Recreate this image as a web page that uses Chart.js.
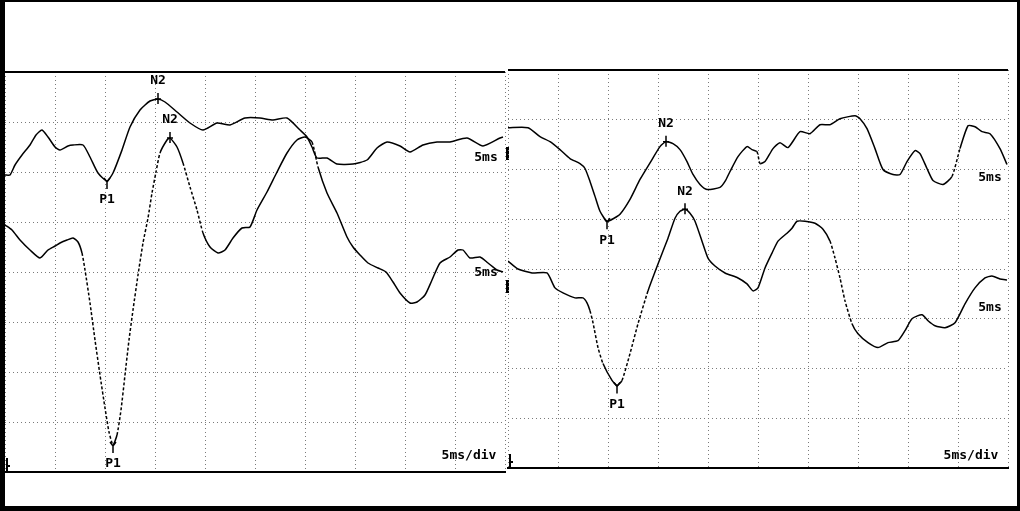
<!DOCTYPE html>
<html>
<head>
<meta charset="utf-8">
<script src="https://cdn.jsdelivr.net/npm/chart.js@4.4.1/dist/chart.umd.min.js"></script>
<style>
    html, body { margin: 0; padding: 0; background: #fff; }
    #page { position: relative; width: 1020px; height: 511px; overflow: hidden; background: #fff; }
    #page canvas { position: absolute; }
    #frame {
        position: absolute; left: 0; top: 0; width: 1020px; height: 511px;
        box-sizing: border-box; border: solid #000; border-width: 2px 3px 5px 5px;
        pointer-events: none;
    }
</style>
</head>
<body>
<div id="page">
    <canvas id="leftChart" width="515" height="420" style="left:0;top:60px;width:515px;height:420px"></canvas>
    <canvas id="rightChart" width="515" height="420" style="left:500px;top:58px;width:515px;height:420px"></canvas>
    <div id="frame"></div>
</div>
<script>
// time in ms (5 ms per division), amplitude in divisions (0 = bottom of screen)

// left screen, upper trace
const leftUpperTime = [0, 0.5, 1.0, 1.7, 2.5, 3.1, 3.7, 4.3, 5.0, 5.5, 6.3, 6.8, 7.8, 8.5, 9.3, 10.2, 10.8, 11.7, 12.5, 13.5,
    14.5, 15.3, 16.0, 17.2, 18.5, 19.8, 21.2, 22.5, 24.0, 25.5, 26.8, 28.2, 29.5, 30.2, 30.7, 31.2, 32.2, 33.2, 34.8, 36.2,
    37.2, 38.2, 39.5, 40.5, 41.8, 43.2, 44.5, 46.2, 47.8, 49.5, 49.8];
const leftUpperAmp = [5.94, 5.94, 6.14, 6.34, 6.54, 6.74, 6.84, 6.70, 6.50, 6.44, 6.52, 6.54, 6.54, 6.30, 5.98, 5.82, 5.98, 6.44, 6.90, 7.24,
    7.42, 7.46, 7.40, 7.20, 6.98, 6.84, 6.98, 6.94, 7.08, 7.08, 7.04, 7.08, 6.84, 6.70, 6.50, 6.28, 6.28, 6.16, 6.16, 6.24,
    6.48, 6.60, 6.52, 6.40, 6.54, 6.60, 6.60, 6.68, 6.52, 6.68, 6.70];

// left screen, lower trace
const leftLowerTime = [0, 0.7, 1.5, 2.5, 3.5, 4.3, 5.0, 5.5, 6.2, 6.8, 7.3, 7.7, 8.0, 8.5, 9.0, 9.5, 10.0, 10.4, 10.8, 11.2,
    11.6, 12.0, 12.4, 12.8, 13.3, 13.8, 14.3, 14.7, 15.1, 15.5, 16.2, 16.5, 17.2, 17.8, 18.5, 19.2, 19.8, 20.5, 21.3, 22.0,
    22.8, 23.7, 24.5, 25.2, 26.2, 27.2, 28.2, 29.2, 30.0, 30.7, 31.3, 32.2, 33.2, 34.2, 34.8, 35.5, 36.3, 37.3, 38.1, 38.8,
    39.5, 40.5, 41.2, 42.0, 42.7, 43.5, 44.5, 45.3, 45.8, 46.5, 47.5, 48.3, 49.2, 49.8];
const leftLowerAmp = [4.94, 4.84, 4.64, 4.44, 4.28, 4.44, 4.52, 4.58, 4.64, 4.68, 4.60, 4.38, 4.04, 3.38, 2.64, 1.94, 1.28, 0.80, 0.54, 0.74,
    1.24, 1.94, 2.64, 3.24, 3.94, 4.58, 5.08, 5.58, 6.00, 6.38, 6.64, 6.68, 6.50, 6.18, 5.70, 5.24, 4.78, 4.50, 4.38, 4.44,
    4.68, 4.88, 4.90, 5.24, 5.60, 6.00, 6.38, 6.64, 6.70, 6.60, 6.10, 5.58, 5.18, 4.70, 4.50, 4.34, 4.18, 4.08, 4.00, 3.80,
    3.58, 3.38, 3.40, 3.54, 3.84, 4.18, 4.30, 4.44, 4.44, 4.28, 4.30, 4.18, 4.04, 4.00];

// right screen, upper trace
const rightUpperTime = [0, 2.0, 3.2, 4.2, 5.2, 6.2, 7.2, 7.7, 8.2, 8.7, 9.2, 9.9, 10.6, 11.2, 12.2, 13.2, 14.4, 15.2, 15.8, 16.5,
    17.2, 17.9, 18.5, 19.2, 19.9, 21.2, 21.7, 22.2, 23.0, 23.9, 24.4, 24.9, 25.2, 25.7, 26.5, 27.2, 28.0, 29.2, 30.2, 31.2,
    32.2, 33.2, 34.7, 35.2, 35.9, 36.7, 37.5, 38.5, 39.2, 39.9, 40.7, 41.2, 41.9, 42.5, 43.5, 44.4, 45.2, 46.0, 46.7, 47.4,
    48.2, 49.2, 49.9];
const rightUpperAmp = [6.84, 6.84, 6.66, 6.56, 6.40, 6.22, 6.12, 6.02, 5.76, 5.46, 5.16, 4.96, 5.02, 5.10, 5.40, 5.80, 6.20, 6.46, 6.56, 6.52,
    6.40, 6.16, 5.90, 5.70, 5.60, 5.64, 5.76, 5.96, 6.26, 6.46, 6.40, 6.36, 6.12, 6.16, 6.42, 6.54, 6.44, 6.76, 6.72, 6.90,
    6.90, 7.02, 7.08, 7.02, 6.82, 6.42, 6.00, 5.90, 5.90, 6.16, 6.38, 6.32, 6.02, 5.78, 5.70, 5.86, 6.42, 6.88, 6.86, 6.76,
    6.72, 6.42, 6.10];

// right screen, lower trace
const rightLowerTime = [0, 1.0, 2.4, 3.9, 4.7, 5.5, 6.7, 7.5, 7.9, 8.2, 8.5, 9.0, 9.5, 10.4, 10.9, 11.4, 12.2, 13.0, 14.0, 15.0,
    16.0, 16.7, 17.2, 17.7, 18.2, 18.7, 19.4, 20.0, 20.7, 21.7, 23.0, 23.9, 24.5, 25.0, 25.7, 26.4, 27.0, 27.9, 28.4, 28.9,
    29.7, 30.7, 31.5, 32.2, 32.7, 33.2, 33.7, 34.4, 35.0, 36.0, 37.0, 38.0, 39.0, 39.7, 40.4, 41.4, 42.0, 42.7, 43.7, 44.7,
    45.7, 46.7, 47.7, 48.4, 49.2, 49.9];
const rightLowerAmp = [4.16, 4.00, 3.92, 3.92, 3.62, 3.52, 3.42, 3.42, 3.32, 3.16, 2.92, 2.42, 2.10, 1.76, 1.66, 1.76, 2.30, 2.90, 3.56, 4.10,
    4.62, 5.02, 5.16, 5.20, 5.12, 4.96, 4.56, 4.22, 4.06, 3.92, 3.82, 3.70, 3.56, 3.62, 4.02, 4.32, 4.56, 4.72, 4.82, 4.96,
    4.96, 4.92, 4.80, 4.56, 4.22, 3.82, 3.36, 2.90, 2.70, 2.52, 2.42, 2.52, 2.56, 2.76, 3.00, 3.08, 2.96, 2.86, 2.82, 2.92,
    3.30, 3.62, 3.82, 3.86, 3.80, 3.78];

// marked peaks (name, latency ms, amplitude div)
const leftPeakNames = ['N2', 'P1', 'N2', 'P1'];
const leftPeakTime = [15.3, 10.2, 16.5, 10.8];
const leftPeakAmp = [7.46, 5.82, 6.68, 0.54];
const rightPeakNames = ['N2', 'P1', 'N2', 'P1'];
const rightPeakTime = [15.8, 9.9, 17.7, 10.9];
const rightPeakAmp = [6.56, 4.96, 5.20, 1.66];

const LABEL_FONT = 'bold 13px "DejaVu Sans Mono", "Liberation Mono", monospace';
const GRID_DOTS = [1, 3];

const toPoints = (times, amps) => times.map((t, i) => ({ x: t, y: amps[i] }));

// steep parts of the trace look dotted on the recorder
const steepDash = c => Math.abs(c.p1.y - c.p0.y) > 3 * Math.abs(c.p1.x - c.p0.x) ? [3, 2] : undefined;

function scopeMarks(names, times, amps, notes, calBars) {
    return {
        id: 'scopeMarks',
        afterDatasetsDraw(chart) {
            const { ctx, chartArea: a, scales: { x, y } } = chart;
            ctx.save();

            // solid top edge of the screen
            ctx.strokeStyle = '#000';
            ctx.lineWidth = 2;
            ctx.beginPath();
            ctx.moveTo(a.left, a.top);
            ctx.lineTo(a.right, a.top);
            ctx.stroke();

            // small corner glyph
            ctx.beginPath();
            ctx.moveTo(a.left + 2, a.bottom - 14);
            ctx.lineTo(a.left + 2, a.bottom);
            ctx.moveTo(a.left + 2, a.bottom - 6);
            ctx.lineTo(a.left + 5, a.bottom - 6);
            ctx.stroke();

            // peak markers and names
            ctx.font = LABEL_FONT;
            ctx.fillStyle = '#000';
            ctx.textAlign = 'center';
            ctx.textBaseline = 'middle';
            ctx.lineWidth = 1.5;
            names.forEach((name, i) => {
                const px = x.getPixelForValue(times[i]);
                const py = y.getPixelForValue(amps[i]);
                ctx.beginPath();
                if (name === 'N2') {
                    ctx.moveTo(px, py - 6);
                    ctx.lineTo(px, py + 5);
                    ctx.moveTo(px - 3, py);
                    ctx.lineTo(px + 3, py);
                    ctx.stroke();
                    ctx.fillText(name, px, py - 18);
                } else {
                    ctx.moveTo(px - 3, py - 3);
                    ctx.lineTo(px, py + 1);
                    ctx.lineTo(px + 3, py - 3);
                    ctx.moveTo(px, py + 1);
                    ctx.lineTo(px, py + 8);
                    ctx.stroke();
                    ctx.fillText(name, px, py + 19);
                }
            });

            // sensitivity / sweep notes
            notes.forEach(n => {
                ctx.fillText(n.text, x.getPixelForValue(n.t), y.getPixelForValue(n.v));
            });

            // calibration bars at the right edge
            calBars.forEach(b => {
                const top = y.getPixelForValue(b[0]);
                const bottom = y.getPixelForValue(b[1]);
                ctx.fillRect(a.right + 1, top, 3, bottom - top);
            });

            ctx.restore();
        }
    };
}

function makeScope(canvasId, traces, padding, marks) {
    return new Chart(document.getElementById(canvasId), {
        type: 'line',
        data: {
            datasets: traces.map(tr => ({
                data: toPoints(tr[0], tr[1]),
                borderColor: '#000',
                borderWidth: 1.5,
                pointRadius: 0,
                tension: 0.2,
                fill: false,
                segment: { borderDash: steepDash }
            }))
        },
        options: {
            responsive: false,
            animation: false,
            events: [],
            layout: { padding: padding },
            plugins: { legend: { display: false }, tooltip: { enabled: false } },
            scales: {
                x: {
                    type: 'linear', min: 0, max: 50,
                    ticks: { display: false, stepSize: 5 },
                    grid: { color: '#7a7a7a', lineWidth: 1, drawTicks: false },
                    border: { display: true, color: '#000', width: 2, dash: GRID_DOTS },
                    afterFit: s => { s.height = 0; }
                },
                y: {
                    type: 'linear', min: 0, max: 8,
                    ticks: { display: false, stepSize: 1 },
                    grid: { color: '#7a7a7a', lineWidth: 1, drawTicks: false },
                    border: { display: false, dash: GRID_DOTS },
                    afterFit: s => { s.width = 0; }
                }
            }
        },
        plugins: [marks]
    });
}

makeScope('leftChart',
    [[leftUpperTime, leftUpperAmp], [leftLowerTime, leftLowerAmp]],
    { left: 5, right: 10, top: 12, bottom: 8 },
    scopeMarks(leftPeakNames, leftPeakTime, leftPeakAmp,
        [{ text: '5ms', t: 48.1, v: 6.28 }, { text: '5ms', t: 48.1, v: 3.98 }, { text: '5ms/div', t: 46.4, v: 0.32 }],
        [[6.5, 6.24], [3.84, 3.58]]));

makeScope('rightChart',
    [[rightUpperTime, rightUpperAmp], [rightLowerTime, rightLowerAmp]],
    { left: 8, right: 7, top: 12, bottom: 10 },
    scopeMarks(rightPeakNames, rightPeakTime, rightPeakAmp,
        [{ text: '5ms', t: 48.2, v: 5.84 }, { text: '5ms', t: 48.2, v: 3.22 }, { text: '5ms/div', t: 46.3, v: 0.24 }],
        []));
</script>
</body>
</html>
